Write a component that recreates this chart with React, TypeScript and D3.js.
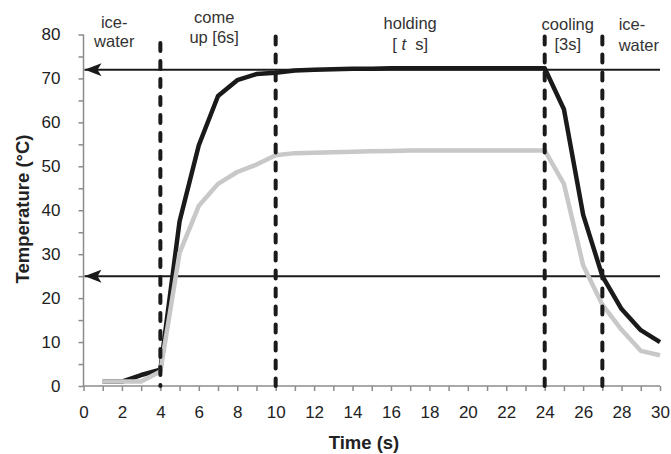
import React, { useRef, useEffect } from "react";
import * as d3 from "d3";

const times = [1, 2, 3, 4, 5, 6, 7, 8, 9, 10, 11, 12, 13, 14, 15, 16, 17, 18, 19, 20, 21, 22, 23, 24, 25, 26, 27, 28, 29, 30];
const darkSeries = [1, 1, 2.5, 3.7, 37.5, 54.8, 66, 69.6, 71, 71.3, 71.8, 72, 72.1, 72.2, 72.2, 72.3, 72.3, 72.3, 72.3, 72.3, 72.3, 72.3, 72.3, 72.3, 63, 39, 25, 17.5, 12.7, 10];
const lightSeries = [1, 1, 1, 3.3, 30.3, 41, 46, 48.7, 50.4, 52.5, 53, 53.1, 53.2, 53.3, 53.4, 53.5, 53.6, 53.6, 53.6, 53.6, 53.6, 53.6, 53.6, 53.6, 46, 27.5, 18.5, 12.8, 8, 7];
const phaseBounds = [
  { x: 4, top: 78.5 },
  { x: 10, top: 80 },
  { x: 24, top: 80 },
  { x: 27, top: 80 },
];
const arrowLevels = [72, 25];
const phaseLabels = [
  { x: 1.6, lines: ["ice-", "water"] },
  { x: 6.8, lines: ["come", "up [6s]"] },
  { x: 17, lines: ["holding", "[t s]"] },
  { x: 25.2, lines: ["cooling", "[3s]"] },
  { x: 27.85, lines: ["ice-", "water"] },
];
const yTicks = [0, 5, 10, 15, 20, 25, 30, 35, 40, 45, 50, 55, 60, 65, 70, 75, 80];
const xTicks = [0, 1, 2, 3, 4, 5, 6, 7, 8, 9, 10, 11, 12, 13, 14, 15, 16, 17, 18, 19, 20, 21, 22, 23, 24, 25, 26, 27, 28, 29, 30];

const font = "'Liberation Sans', Arial, sans-serif";
// baselines of the two label rows, per label
const labelRows = [
  [28, 47],
  [23, 43],
  [28.5, 50],
  [30, 50],
  [30, 50.5],
];

const TempChart = () => {
  const svgRef = useRef<SVGSVGElement>(null);

  useEffect(() => {
    const svg = d3.select(svgRef.current);
    svg.selectAll("*").remove();

    const x = d3.scaleLinear().domain([0, 30]).range([83.5, 660]);
    const y = d3.scaleLinear().domain([0, 80]).range([386, 34.5]);

    svg
      .append("defs")
      .append("marker")
      .attr("id", "arrowhead")
      .attr("viewBox", "0 0 17 13")
      .attr("refX", 17)
      .attr("refY", 6.5)
      .attr("markerWidth", 17)
      .attr("markerHeight", 13)
      .attr("markerUnits", "userSpaceOnUse")
      .attr("orient", "auto")
      .append("path")
      .attr("d", "M0,0 L17,6.5 L0,13 L4,6.5 Z")
      .attr("fill", "#1a1a1a");

    // y axis
    const yAxis = svg
      .append("g")
      .attr("transform", `translate(${x(0)},0)`)
      .call(
        d3
          .axisLeft(y)
          .tickValues(yTicks)
          .tickSize(5)
          .tickFormat((d) => ((d as number) % 10 === 0 ? String(d) : ""))
      );
    yAxis.selectAll(".tick line").attr("stroke", "#8c8c8c").attr("stroke-width", 1.5);
    yAxis
      .selectAll(".tick text")
      .attr("x", -23)
      .attr("fill", "#222")
      .style("font-family", font)
      .style("font-size", "17px");

    // x axis
    const xAxis = svg
      .append("g")
      .attr("transform", `translate(0,${y(0)})`)
      .call(
        d3
          .axisBottom(x)
          .tickValues(xTicks)
          .tickSize(5)
          .tickFormat((d) => ((d as number) % 2 === 0 ? String(d) : ""))
      );
    xAxis.selectAll(".tick line").attr("stroke", "#8c8c8c").attr("stroke-width", 1.5);
    xAxis
      .selectAll(".tick text")
      .attr("y", 20)
      .attr("fill", "#222")
      .style("font-family", font)
      .style("font-size", "17px");
    svg.selectAll(".domain").remove();
    svg
      .append("line")
      .attr("x1", x(0))
      .attr("x2", x(0))
      .attr("y1", y(80))
      .attr("y2", y(0))
      .attr("stroke", "#8c8c8c")
      .attr("stroke-width", 1.5);
    svg
      .append("line")
      .attr("x1", x(0))
      .attr("x2", x(30))
      .attr("y1", y(0))
      .attr("y2", y(0))
      .attr("stroke", "#8c8c8c")
      .attr("stroke-width", 1.5);

    // axis titles
    svg
      .append("text")
      .attr("x", 364)
      .attr("y", 449)
      .attr("text-anchor", "middle")
      .attr("font-family", font)
      .attr("font-weight", "bold")
      .attr("font-size", 18.5)
      .attr("fill", "#222")
      .text("Time (s)");
    svg
      .append("text")
      .attr("transform", `translate(29,209) rotate(-90)`)
      .attr("text-anchor", "middle")
      .attr("font-family", font)
      .attr("font-weight", "bold")
      .attr("font-size", 18.5)
      .attr("fill", "#222")
      .text("Temperature (°C)");

    // arrows
    svg
      .selectAll(".arrow")
      .data(arrowLevels)
      .enter()
      .append("line")
      .attr("x1", x(30))
      .attr("x2", x(0) + 1)
      .attr("y1", (d) => y(d))
      .attr("y2", (d) => y(d))
      .attr("stroke", "#1a1a1a")
      .attr("stroke-width", 2);
    svg
      .selectAll(".arrowtip")
      .data(arrowLevels)
      .enter()
      .append("line")
      .attr("x1", x(0) + 20)
      .attr("x2", x(0) + 1)
      .attr("y1", (d) => y(d))
      .attr("y2", (d) => y(d))
      .attr("stroke", "none")
      .attr("marker-end", "url(#arrowhead)");

    const line = d3
      .line<number>()
      .x((_, i) => x(times[i]))
      .y((d) => y(d));

    svg
      .append("path")
      .datum(darkSeries)
      .attr("fill", "none")
      .attr("stroke", "#1a1a1a")
      .attr("stroke-width", 4.5)
      .attr("stroke-linejoin", "round")
      .attr("d", line);

    svg
      .append("path")
      .datum(lightSeries)
      .attr("fill", "none")
      .attr("stroke", "#c8c8c8")
      .attr("stroke-width", 4.5)
      .attr("stroke-linejoin", "round")
      .attr("d", line);

    // phase boundaries
    svg
      .selectAll(".phase")
      .data(phaseBounds)
      .enter()
      .append("line")
      .attr("x1", (d) => x(d.x))
      .attr("x2", (d) => x(d.x))
      .attr("y1", (d) => y(d.top) + 2)
      .attr("y2", y(0))
      .attr("stroke", "#1a1a1a")
      .attr("stroke-width", 4)
      .attr("stroke-linecap", "round")
      .attr("stroke-dasharray", "8,10");

    // phase labels
    const labels = svg
      .selectAll(".plabel")
      .data(phaseLabels)
      .enter()
      .append("text")
      .attr("text-anchor", (_, i) => (i === phaseLabels.length - 1 ? "start" : "middle"))
      .attr("font-family", font)
      .attr("font-size", 16.5)
      .attr("fill", "#333");
    labels
      .append("tspan")
      .attr("x", (d) => x(d.x))
      .attr("y", (_, i) => labelRows[i][0])
      .text((d) => d.lines[0]);
    labels.each(function (d, i) {
      const t = d3.select(this);
      const second = d.lines[1];
      const m = second.match(/^\[(\w) (\w)\]$/);
      if (m) {
        const sp = t.append("tspan").attr("x", x(d.x)).attr("y", labelRows[i][1]);
        sp.append("tspan").text("[\u00a0");
        sp.append("tspan").attr("font-style", "italic").text(m[1]);
        sp.append("tspan").text("\u00a0\u00a0" + m[2] + "]");
        return;
      }
      t.append("tspan").attr("x", x(d.x)).attr("y", labelRows[i][1]).text(second);
    });
  }, []);

  return (
    <svg
      ref={svgRef}
      width={671}
      height={454}
      style={{ position: "absolute", left: 0, top: 0, background: "#fff" }}
    ></svg>
  );
};

export default function App() {
  return <TempChart />;
}
